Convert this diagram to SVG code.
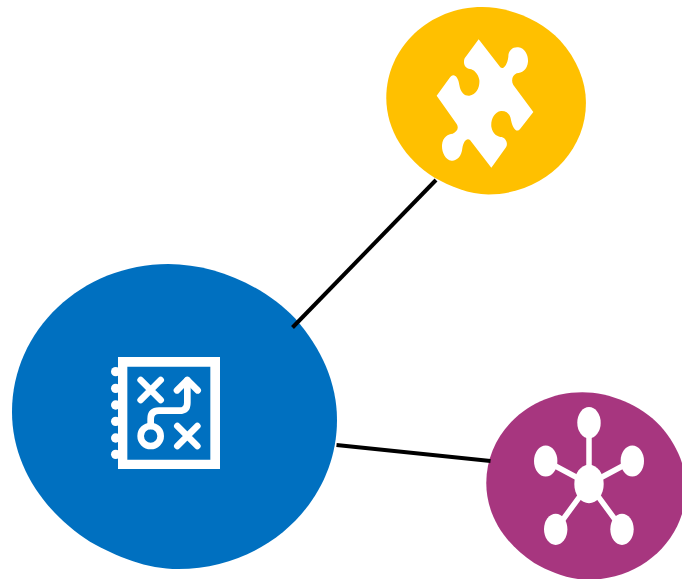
<svg xmlns="http://www.w3.org/2000/svg" width="682" height="579" viewBox="0 0 682 579">
<style>
.icon{fill:#fff}
.stroke{fill:none;stroke:#fff;stroke-linecap:round;stroke-linejoin:round}
.conn{stroke:#000;stroke-width:4;fill:none}
</style>
<defs>
<path id="blob" d="M505 27C640 27 790 90 885 190C965 280 1011 385 1011 495C1011 740 800 942 535 942C440 942 350 905 270 860C130 770 36 630 36 470C36 225 246 27 505 27Z"/>
</defs>
<rect width="682" height="579" fill="#fff"/>
<g id="node-strategy">
<use href="#blob" fill="#0070c0" transform="translate(0 255) scale(.33333)"/>
<g transform="translate(100 345) scale(.33333)">
<path class="icon" fill-rule="evenodd" d="M54 36H360V372H54ZM82 65V344H331V65Z"/>
<g class="icon">
<circle cx="47" cy="80" r="14"/><circle cx="47" cy="130" r="14"/><circle cx="47" cy="180" r="14"/><circle cx="47" cy="229" r="14"/><circle cx="47" cy="279" r="14"/><circle cx="47" cy="328" r="14"/>
</g>
<g class="stroke" stroke-width="20">
<path d="M122 105L182 165M182 105L122 165"/>
<path d="M232 243L292 303M292 243L232 303"/>
<circle cx="152" cy="273" r="30"/>
<path d="M152 243V222Q152 197 177 197H238Q262 197 262 173V106"/>
<path d="M231 136L262 105L293 136"/>
</g>
</g>
</g>
<g id="node-puzzle">
<use href="#blob" fill="#ffc000" transform="translate(378.9 1.47) scale(.2048)"/>
<path class="icon" transform="translate(420 20) scale(.33333)" d="M176 58L241 142C250 150 262 135 265 110C265 90 280 80 295 82C315 85 325 105 324 125C322 150 305 158 290 160C278 165 272 180 280 195L340 276L302 325C290 342 278 325 273 300C270 280 258 272 243 273C222 276 212 300 214 320C218 345 235 350 245 351C258 355 265 370 258 382L214 443L150 360C140 352 130 365 127 385C125 410 110 423 95 422C75 420 65 395 66 375C68 350 85 342 98 341C110 335 118 325 110 312L50 227L88 175C100 155 115 170 118 195C122 220 135 228 148 227C170 224 180 200 178 180C175 160 160 148 150 147C135 145 128 130 134 115Z"/>
</g>
<g id="node-network">
<use href="#blob" fill="#a7367f" transform="translate(478.9 386.8) scale(.2048)"/>
<g class="stroke" stroke-width="5.500" style="stroke-linecap:butt">
<path d="M589 484V423M589 484L546 461M589 484L632 461M589 484L556 529M589 484L622 529"/>
</g>
<g class="icon">
<ellipse cx="589" cy="484" rx="14.700" ry="19.300"/>
<ellipse cx="589" cy="422.700" rx="11.700" ry="15.600"/>
<ellipse cx="545.700" cy="461" rx="11.700" ry="15.600"/>
<ellipse cx="632.300" cy="461" rx="11.700" ry="15.600"/>
<ellipse cx="555.700" cy="529.300" rx="11.700" ry="15.600"/>
<ellipse cx="622" cy="529.300" rx="11.700" ry="15.600"/>
</g>
</g>
<g id="connectors">
<line class="conn" x1="292.500" y1="327.500" x2="436" y2="180"/>
<line class="conn" x1="336.500" y1="445" x2="490.500" y2="461"/>
</g>
</svg>
